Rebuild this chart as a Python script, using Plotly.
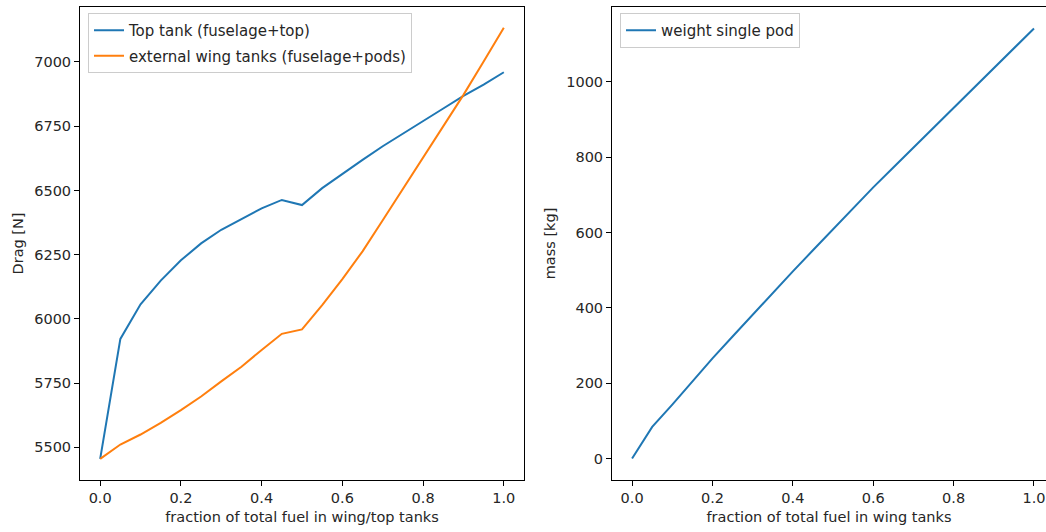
import plotly.graph_objects as go

fraction = [0.0, 0.05, 0.1, 0.15, 0.2, 0.25, 0.3, 0.35, 0.4, 0.45, 0.5,
            0.55, 0.6, 0.65, 0.7, 0.75, 0.8, 0.85, 0.9, 0.95, 1.0]
drag_top_tank = [5455, 5922, 6057, 6149, 6228, 6294, 6347, 6389, 6430, 6463, 6443,
                 6509, 6565, 6619, 6672, 6720, 6769, 6819, 6868, 6912, 6960]
drag_wing_pods = [5455, 5511, 5550, 5595, 5645, 5698, 5757, 5814, 5879, 5942, 5959,
                  6054, 6155, 6263, 6384, 6505, 6628, 6748, 6872, 7002, 7133]
pod_mass = [0, 84, 143, 205, 266, 324, 382, 440, 497, 553, 609,
            665, 720, 773, 826, 878, 930, 983, 1036, 1089, 1142]

W, H = 1046, 532
ml, mt, mb = 0, 7, 52
font = dict(family="DejaVu Sans", size=14.5, color="#262626")
lfont = dict(family="DejaVu Sans", size=15, color="#262626")
BLUE, ORANGE = "#1f77b4", "#ff7f0e"

fig = go.Figure()
fig.add_trace(go.Scatter(x=fraction, y=drag_top_tank, mode="lines",
                         name="Top tank (fuselage+top)", legendgroup="a",
                         line=dict(color=BLUE, width=2), xaxis="x", yaxis="y",
                         legend="legend"))
fig.add_trace(go.Scatter(x=fraction, y=drag_wing_pods, mode="lines",
                         name="external wing tanks (fuselage+pods)", legendgroup="b",
                         line=dict(color=ORANGE, width=2), xaxis="x", yaxis="y",
                         legend="legend"))
fig.add_trace(go.Scatter(x=fraction, y=pod_mass, mode="lines",
                         name="weight single pod", legendgroup="c",
                         line=dict(color=BLUE, width=2), xaxis="x2", yaxis="y2",
                         legend="legend2"))

axis_common = dict(showgrid=False, zeroline=False, showline=True, linecolor="#000000",
                   linewidth=1, ticks="outside", ticklen=5, tickcolor="#000000",
                   tickfont=font)

plot_h = H - mt - mb

def py(pix):
    return 1 - (pix - mt) / plot_h

ticks_x = [0, 0.2, 0.4, 0.6, 0.8, 1.0]
ticks_x_text = ["0.0", "0.2", "0.4", "0.6", "0.8", "1.0"]

fig.update_layout(
    width=W, height=H,
    margin=dict(l=ml, r=0, t=mt, b=mb),
    paper_bgcolor="white", plot_bgcolor="white",
    font=font,
    xaxis=dict(domain=[80 / W, 524 / W], range=[-0.05, 1.05],
               tickvals=ticks_x, ticktext=ticks_x_text, mirror=True,
               title=dict(text="fraction of total fuel in wing/top tanks", font=font, standoff=6),
               anchor="y", **axis_common),
    yaxis=dict(domain=[0, 1], range=[5373, 7214],
               tickvals=[5500, 5750, 6000, 6250, 6500, 6750, 7000],
               mirror=True,
               title=dict(text="Drag [N]", font=font, standoff=7),
               anchor="x", **axis_common),
    xaxis2=dict(domain=[612 / W, 1.0], range=[-0.05, 1.0299],
                tickvals=ticks_x, ticktext=ticks_x_text, mirror=True,
                title=dict(text="fraction of total fuel in wing tanks", font=font, standoff=6),
                anchor="y2", **axis_common),
    yaxis2=dict(domain=[0, 1], range=[-57, 1199],
                tickvals=[0, 200, 400, 600, 800, 1000],
                mirror=False,
                title=dict(text="mass [kg]", font=font, standoff=7),
                anchor="x2", **axis_common),
    legend=dict(x=88 / W, y=py(13), xanchor="left", yanchor="top",
                bgcolor="rgba(255,255,255,0.8)", bordercolor="#cccccc", borderwidth=1,
                font=lfont, tracegroupgap=3),
    legend2=dict(x=620 / W, y=py(13), xanchor="left", yanchor="top",
                 bgcolor="rgba(255,255,255,0.8)", bordercolor="#cccccc", borderwidth=1,
                 font=lfont),
    showlegend=True,
)

fig.write_html("out.html")
